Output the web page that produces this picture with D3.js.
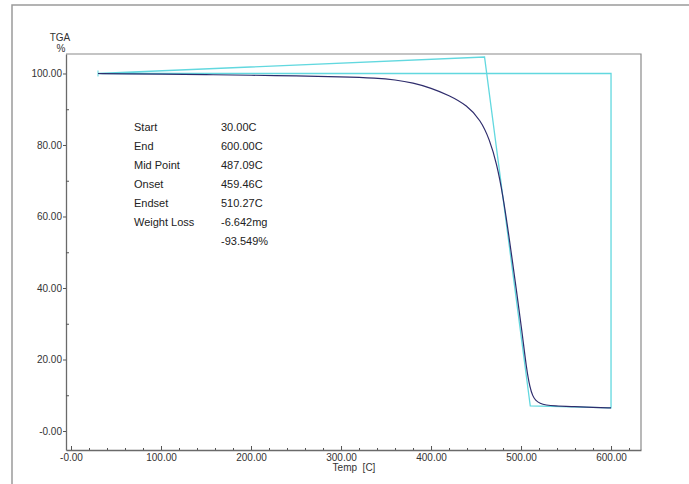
<!DOCTYPE html>
<html>
<head>
<meta charset="utf-8">
<script src="https://cdn.jsdelivr.net/npm/d3@7"></script>
<style>
body { margin: 0; background: #fff; }
text { font-family: "Liberation Sans", Arial, sans-serif; }
</style>
</head>
<body>
<script>
// TGA curve (temp C, weight %)
var temps   = [30, 60, 100, 150, 200, 250, 300, 340, 360, 380, 400, 420, 440, 455, 465, 473, 480, 487, 495, 501, 506, 510, 513, 516, 521, 528, 536, 560, 580, 600];
var weights = [100, 99.92, 99.82, 99.68, 99.52, 99.32, 99.05, 98.7, 98.25, 97.4, 95.95, 93.9, 91.1, 87.0, 81.6, 74.8, 65.8, 53.8, 39.2, 28.0, 17.5, 12.0, 9.8, 8.6, 7.7, 7.25, 7.0, 6.8, 6.6, 6.45];

// onset / endset construction lines (cyan)
var guideT = [30, 459.46, 510.27, 600, 600, 30];
var guideW = [100, 104.6, 7.0, 6.45, 100, 100];

var xMajor = [0, 100, 200, 300, 400, 500, 600];
var yMajor = [0, 20, 40, 60, 80, 100];

var infoLabels = ["Start", "End", "Mid Point", "Onset", "Endset", "Weight Loss", ""];
var infoValues = ["30.00C", "600.00C", "487.09C", "459.46C", "510.27C", "-6.642mg", "-93.549%"];

var W = 689, H = 484;
var svg = d3.select("body").append("svg")
	.attr("width", W)
	.attr("height", H);

// outer frame
svg.append("rect")
	.attr("x", 12).attr("y", 5)
	.attr("width", 700).attr("height", 500)
	.attr("fill", "none")
	.attr("stroke", "#9a9a9a")
	.attr("stroke-width", 1.5);

var x = d3.scaleLinear().domain([-5.56, 633.3]).range([66, 641]);
var y = d3.scaleLinear().domain([-5.31, 105.45]).range([450, 54]);

function fmt(d) { return d === 0 ? "-0.00" : d.toFixed(2); }

// plot frame (top + right)
svg.append("path")
	.attr("d", "M66,54H641V450")
	.attr("fill", "none")
	.attr("stroke", "#8a8a8a")
	.attr("stroke-width", 1.2);

// x axis
var xMinor = d3.range(20, 640, 20).filter(function(d){ return d % 100 !== 0; });
var gx = svg.append("g").attr("transform", "translate(0,450)");
gx.call(d3.axisBottom(x).tickValues(xMajor).tickSize(-4).tickPadding(4).tickFormat(fmt).tickSizeOuter(0));
gx.append("g").call(d3.axisBottom(x).tickValues(xMinor).tickSize(-2).tickFormat("").tickSizeOuter(0))
	.select(".domain").remove();

// y axis
var yMinor = d3.range(0, 106, 10).filter(function(d){ return d % 20 !== 0; });
var gy = svg.append("g").attr("transform", "translate(66,0)");
gy.call(d3.axisLeft(y).tickValues(yMajor).tickSize(3).tickPadding(1).tickFormat(fmt).tickSizeOuter(0));
gy.append("g").call(d3.axisLeft(y).tickValues(yMinor).tickSize(-3).tickFormat("").tickSizeOuter(0))
	.select(".domain").remove();

svg.selectAll(".domain").attr("stroke", "#6a6a6a").attr("stroke-width", 1.3);
svg.selectAll(".tick line").attr("stroke", "#555");
svg.selectAll(".tick text")
	.attr("fill", "#333")
	.style("font-size", "10px")
	.style("font-family", "'Liberation Sans', Arial, sans-serif");

// axis titles
svg.append("text").attr("x", 60).attr("y", 41).attr("text-anchor", "middle")
	.style("font-size", "10px").attr("fill", "#333").text("TGA");
svg.append("text").attr("x", 61).attr("y", 52).attr("text-anchor", "middle")
	.style("font-size", "10px").attr("fill", "#333").text("%");
svg.append("text").attr("x", 354).attr("y", 471).attr("text-anchor", "middle")
	.style("font-size", "10px").attr("fill", "#333").attr("xml:space", "preserve").text("Temp  [C]");

// cyan guide lines
var guide = d3.range(guideT.length).map(function(i){ return [guideT[i], guideW[i]]; });
svg.append("path")
	.datum(guide)
	.attr("d", d3.line().x(function(d){ return x(d[0]); }).y(function(d){ return y(d[1]); }))
	.attr("fill", "none")
	.attr("stroke", "#62d8df")
	.attr("stroke-width", 1.3);

// start marker
svg.append("line")
	.attr("x1", x(30)).attr("x2", x(30))
	.attr("y1", y(100) - 3).attr("y2", y(100) + 3)
	.attr("stroke", "#62d8df").attr("stroke-width", 1);

// TGA curve
var curve = d3.range(temps.length).map(function(i){ return [temps[i], weights[i]]; });
svg.append("path")
	.datum(curve)
	.attr("d", d3.line().curve(d3.curveBasis)
		.x(function(d){ return x(d[0]); })
		.y(function(d){ return y(d[1]); }))
	.attr("fill", "none")
	.attr("stroke", "#2e2c6c")
	.attr("stroke-width", 1.2);

// result table
var info = svg.append("g").style("font-size", "11px").attr("fill", "#222");
info.selectAll("text.lab")
	.data(infoLabels).enter()
	.append("text").attr("class", "lab")
	.attr("x", 134)
	.attr("y", function(d, i){ return 131 + i * 19; })
	.text(function(d){ return d; });
info.selectAll("text.val")
	.data(infoValues).enter()
	.append("text").attr("class", "val")
	.attr("x", 221)
	.attr("y", function(d, i){ return 131 + i * 19; })
	.text(function(d){ return d; });
</script>
</body>
</html>
